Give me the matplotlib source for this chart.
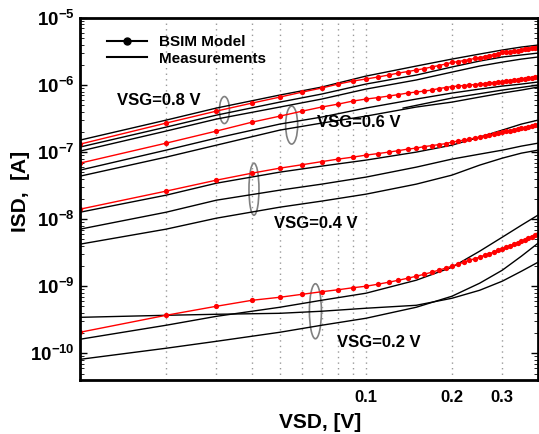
import numpy as np
import matplotlib
matplotlib.use("Agg")
import matplotlib.pyplot as plt
from matplotlib.patches import Ellipse
from matplotlib.lines import Line2D
from matplotlib.transforms import ScaledTranslation
from matplotlib.ticker import FixedLocator, LogLocator, NullFormatter

plt.rcParams["font.family"] = ["Liberation Sans", "DejaVu Sans"]
plt.rcParams["mathtext.fontset"] = "custom"
plt.rcParams["mathtext.bf"] = "Liberation Sans:bold"
plt.rcParams["mathtext.rm"] = "Liberation Sans:bold"

# BSIM model sweep (VSD in V)
vsd_model = [0.01, 0.02, 0.03, 0.04, 0.05, 0.06, 0.07, 0.08, 0.09, 0.10,
             0.11, 0.12, 0.13, 0.14, 0.15, 0.16, 0.17, 0.18, 0.19, 0.20,
             0.21, 0.22, 0.23, 0.24, 0.25, 0.26, 0.27, 0.28, 0.29, 0.30,
             0.31, 0.32, 0.33, 0.34, 0.35, 0.36, 0.37, 0.38, 0.39, 0.40]

model_08 = [1.315e-7, 2.71e-7, 4.09e-7, 5.39e-7, 6.62e-7, 7.87e-7, 9.02e-7, 1.035e-6, 1.148e-6, 1.23e-6,
            1.316e-6, 1.41e-6, 1.51e-6, 1.59e-6, 1.675e-6, 1.76e-6, 1.86e-6, 1.955e-6, 2.06e-6, 2.17e-6,
            2.24e-6, 2.32e-6, 2.40e-6, 2.49e-6, 2.57e-6, 2.66e-6, 2.75e-6, 2.85e-6, 2.95e-6, 3.06e-6,
            3.11e-6, 3.16e-6, 3.22e-6, 3.27e-6, 3.33e-6, 3.44e-6, 3.50e-6, 3.57e-6, 3.63e-6, 3.69e-6]
model_06 = [6.85e-8, 1.36e-7, 2.06e-7, 2.80e-7, 3.44e-7, 4.09e-7, 4.70e-7, 5.20e-7, 5.77e-7, 6.18e-7,
            6.50e-7, 6.85e-7, 7.21e-7, 7.60e-7, 7.87e-7, 8.13e-7, 8.42e-7, 8.87e-7, 9.18e-7, 9.50e-7,
            9.66e-7, 9.84e-7, 1.0e-6, 1.017e-6, 1.035e-6, 1.052e-6, 1.071e-6, 1.089e-6, 1.109e-6, 1.128e-6,
            1.148e-6, 1.168e-6, 1.188e-6, 1.209e-6, 1.230e-6, 1.251e-6, 1.272e-6, 1.294e-6, 1.316e-6, 1.339e-6]
model_04 = [1.41e-8, 2.62e-8, 3.82e-8, 4.86e-8, 5.77e-8, 6.50e-8, 7.21e-8, 7.87e-8, 8.42e-8, 9.02e-8,
            9.50e-8, 1.0e-7, 1.052e-7, 1.109e-7, 1.148e-7, 1.209e-7, 1.251e-7, 1.294e-7, 1.339e-7, 1.41e-7,
            1.46e-7, 1.51e-7, 1.56e-7, 1.62e-7, 1.675e-7, 1.735e-7, 1.795e-7, 1.86e-7, 1.92e-7, 1.99e-7,
            2.06e-7, 2.09e-7, 2.17e-7, 2.21e-7, 2.28e-7, 2.32e-7, 2.40e-7, 2.44e-7, 2.53e-7, 2.57e-7]
model_02 = [2.06e-10, 3.69e-10, 5.03e-10, 6.18e-10, 6.85e-10, 7.60e-10, 8.28e-10, 8.87e-10, 9.50e-10, 1.0e-9,
            1.071e-9, 1.148e-9, 1.230e-9, 1.316e-9, 1.41e-9, 1.51e-9, 1.62e-9, 1.735e-9, 1.86e-9, 1.99e-9,
            2.13e-9, 2.28e-9, 2.44e-9, 2.57e-9, 2.71e-9, 2.90e-9, 3.06e-9, 3.22e-9, 3.44e-9, 3.63e-9,
            3.82e-9, 4.02e-9, 4.24e-9, 4.46e-9, 4.70e-9, 4.94e-9, 5.20e-9, 5.48e-9, 5.77e-9, 5.97e-9]

# measured curves (several devices per gate bias)
vsd_meas = [0.01, 0.02, 0.03, 0.05, 0.07, 0.1, 0.15, 0.2, 0.25, 0.3, 0.35, 0.4]
meas_08 = [[1.51e-7, 3.0e-7, 4.54e-7, 7.1e-7, 9.33e-7, 1.36e-6, 1.92e-6, 2.44e-6, 2.90e-6, 3.33e-6, 3.69e-6, 3.95e-6],
           [1.19e-7, 2.36e-7, 3.56e-7, 5.57e-7, 7.34e-7, 1.035e-6, 1.41e-6, 1.86e-6, 2.28e-6, 2.62e-6, 2.81e-6, 3.0e-6],
           [1.035e-7, 2.06e-7, 3.11e-7, 4.70e-7, 6.18e-7, 8.71e-7, 1.19e-6, 1.56e-6, 1.92e-6, 2.2e-6, 2.44e-6, 2.62e-6]]
meas_06 = [[5.39e-8, 1.07e-7, 1.62e-7, 2.62e-7, 3.33e-7, 4.54e-7, 6.18e-7, 7.6e-7, 8.71e-7, 9.66e-7, 1.035e-6, 1.11e-6],
           [4.38e-8, 8.42e-8, 1.27e-7, 2.13e-7, 2.71e-7, 3.44e-7, 4.7e-7, 5.57e-7, 6.62e-7, 7.6e-7, 8.42e-7, 9.33e-7]]
# partial trace at VSG=0.6 V, only drawn above ~0.135 V
vsd_meas_06b = [0.135, 0.2, 0.3, 0.4]
meas_06b = [4.54e-7, 6.4e-7, 8.42e-7, 1.0e-6]
meas_04 = [[1.27e-8, 2.28e-8, 3.44e-8, 5.03e-8, 6.18e-8, 7.6e-8, 1.0e-7, 1.27e-7, 1.675e-7, 2.13e-7, 2.62e-7, 3.0e-7],
           [7.1e-9, 1.27e-8, 1.92e-8, 2.71e-8, 3.33e-8, 4.24e-8, 5.97e-8, 7.87e-8, 9.33e-8, 1.07e-7, 1.23e-7, 1.36e-7],
           [4.24e-9, 7.1e-9, 1.035e-8, 1.51e-8, 1.86e-8, 2.36e-8, 3.33e-8, 4.54e-8, 6.4e-8, 8.13e-8, 9.66e-8, 1.07e-7]]
meas_02 = [[1.62e-10, 2.62e-10, 3.56e-10, 4.86e-10, 6.18e-10, 7.87e-10, 1.23e-9, 1.92e-9, 3.33e-9, 5.39e-9, 8.13e-9, 1.15e-8],
           [3.44e-10, 3.69e-10, 3.82e-10, 3.95e-10, 4.24e-10, 4.70e-10, 5.2e-10, 6.62e-10, 8.71e-10, 1.19e-9, 1.675e-9, 2.28e-9],
           [8.13e-11, 1.19e-10, 1.51e-10, 2.06e-10, 2.62e-10, 3.33e-10, 4.86e-10, 7.1e-10, 1.11e-9, 1.735e-9, 2.81e-9, 4.38e-9]]

fig = plt.figure(figsize=(5.39, 4.34), dpi=100)
ax = fig.add_axes([80 / 539, 54 / 434, 458 / 539, 362 / 434])

for group in (meas_08, meas_06, meas_04, meas_02):
    for curve in group:
        ax.plot(vsd_meas, curve, color="black", lw=1.0)
ax.plot(vsd_meas_06b, meas_06b, color="black", lw=1.0)

for model in (model_08, model_06, model_04, model_02):
    ax.plot(vsd_model, model, color="red", lw=1.0, marker="o",
            markersize=3.8, markeredgewidth=0)

ax.set_xscale("log")
ax.set_yscale("log")
ax.set_xlim(0.01, 0.4)
ax.set_ylim(4e-11, 1e-5)

ax.xaxis.set_major_locator(FixedLocator([0.1, 0.2, 0.3]))
ax.xaxis.set_minor_locator(FixedLocator([0.02, 0.03, 0.04, 0.05, 0.06, 0.07, 0.08, 0.09]))
ax.set_xticklabels(["0.1", "0.2", "0.3"], fontsize=12, fontweight="bold")
ax.xaxis.set_minor_formatter(NullFormatter())
ax.grid(True, which="both", axis="x", color="#999999", linestyle=(0, (1, 3)), lw=1.0)

yt = [1e-10, 1e-9, 1e-8, 1e-7, 1e-6, 1e-5]
ax.yaxis.set_major_locator(FixedLocator(yt))
ax.set_yticklabels([r"$\mathbf{10^{%d}}$" % e for e in range(-10, -4)], fontsize=13.5)
ax.yaxis.set_minor_locator(LogLocator(base=10, subs=np.arange(2, 10)))
ax.yaxis.set_minor_formatter(NullFormatter())
ax.tick_params(axis="both", which="both", direction="in", right=True, top=False)
ax.tick_params(axis="y", which="major", length=5, width=1, pad=4)
ax.tick_params(axis="y", which="minor", length=3, width=0.6)
ax.tick_params(axis="x", which="both", length=0, pad=7)

for s in ax.spines.values():
    s.set_linewidth(2)

ax.set_xlabel("VSD, [V]", fontsize=15, fontweight="bold")
ax.xaxis.set_label_coords(0.525, -0.09)
ax.set_ylabel("ISD,  [A]", fontsize=15, fontweight="bold")
ax.yaxis.set_label_coords(-0.11, 0.52)

# group labels and ellipses
tkw = dict(fontsize=12, fontweight="bold", va="center", ha="left")
ax.text(0.0135, 5.97e-7, "VSG=0.8 V", **tkw)
ax.text(0.0677, 2.8e-7, "VSG=0.6 V", **tkw)
ax.text(0.0477, 8.7e-9, "VSG=0.4 V", **tkw)
ax.text(0.0794, 1.46e-10, "VSG=0.2 V", **tkw)

for (xc, yc, w, h) in [(0.032, 4.24e-7, 10, 27), (0.055, 2.53e-7, 12, 38),
                       (0.0406, 2.8e-8, 10, 52), (0.0666, 4.24e-10, 12, 55)]:
    tr = fig.dpi_scale_trans + ScaledTranslation(xc, yc, ax.transData)
    ax.add_patch(Ellipse((0, 0), w / 100, h / 100, transform=tr,
                         fill=False, edgecolor="#808080", lw=1.2))

handles = [Line2D([], [], color="black", lw=1.5, marker="o", markersize=5),
           Line2D([], [], color="black", lw=1.5)]
ax.legend(handles, ["BSIM Model", "Measurements"], loc="upper left",
          bbox_to_anchor=(0.03, 0.99), frameon=False, handlelength=2.6,
          prop={"weight": "bold", "size": 11}, labelspacing=0.15)

plt.savefig("out.png", dpi=100)
